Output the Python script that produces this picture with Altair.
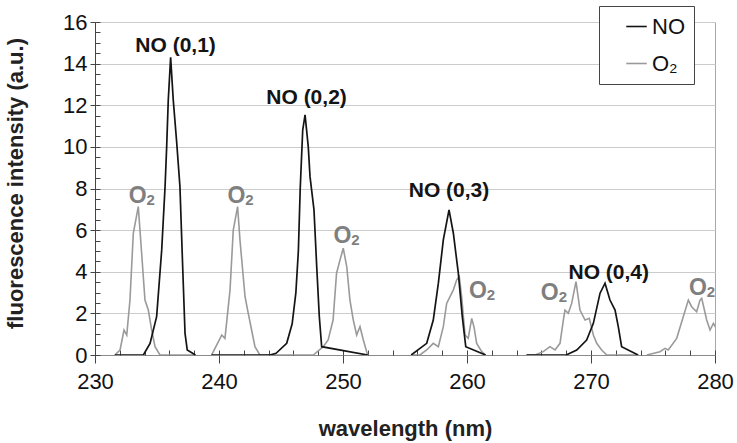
import altair as alt
import pandas as pd

FONT = "Liberation Sans"

# NO fluorescence spectrum, one scan window per value of no_scan
no_scan = [1] * 16 + [2] * 17 + [3] * 11 + [4] * 12
no_wl = [
    231.6, 233.9, 234.44, 234.97, 235.38, 235.65, 235.78, 235.91, 236.1, 236.31,
    236.59, 236.85, 237.07, 237.26, 237.44, 238.1,
    239.4, 244.1, 244.6, 245.46, 245.9, 246.2, 246.4, 246.55, 246.75, 246.94,
    247.2, 247.34, 247.66, 247.88, 248.09, 248.28, 252.0,
    255.5, 256.75, 257.28, 257.69, 258.09, 258.55, 258.9, 259.3, 259.62, 259.9, 261.5,
    264.8, 268.0, 268.85, 269.65, 270.19, 270.73, 271.13, 271.53, 271.94, 272.2,
    272.47, 273.8,
]
no_val = [
    0, 0, 0.56, 1.84, 5.05, 8.09, 10.0, 12.26, 14.3, 12.26,
    10.2, 8.09, 4.25, 1.04, 0.24, 0,
    0, 0, 0.08, 0.56, 1.5, 3.0, 5.0, 8.0, 10.8, 11.54,
    10.0, 8.57, 6.97, 4.25, 1.84, 0.4, 0,
    0, 0.56, 1.68, 3.45, 5.53, 6.97, 5.85, 3.93, 1.84, 0.4, 0,
    0, 0, 0.24, 0.72, 1.52, 2.97, 3.45, 2.64, 2.16, 1.36,
    0.4, 0,
]

# O2 fluorescence spectrum, one scan window per value of o2_scan
o2_scan = [1] * 14 + [2] * 30 + [3] * 19 + [4] * 19 + [5] * 15
o2_wl = [
    231.6, 232.02, 232.34, 232.56, 232.82, 233.09, 233.49, 233.76, 234.03, 234.3,
    234.57, 234.84, 235.24, 238.1,
    239.4, 240.22, 240.48, 240.89, 241.15, 241.5, 241.69, 242.1, 242.36, 242.63,
    242.9, 243.3, 247.6, 248.41, 248.8, 249.2, 249.48, 249.76, 250.02, 250.3,
    250.56, 250.83, 251.1, 251.37, 251.64, 251.91, 252.0, 252.0, 252.0, 252.0,
    255.5, 256.2, 256.75, 257.28, 257.69, 258.09, 258.36, 258.63, 258.9, 259.17,
    259.38, 259.57, 259.84, 260.1, 260.38, 260.56, 260.78, 261.19, 261.5,
    264.8, 265.5, 266.15, 266.69, 267.1, 267.5, 267.77, 267.9, 268.17, 268.44,
    268.79, 269.11, 269.52, 269.86, 270.19, 270.46, 270.86, 271.27, 273.8,
    274.5, 275.56, 275.97, 276.23, 276.91, 277.44, 277.85, 278.12, 278.52, 278.79,
    278.93, 279.33, 279.6, 279.87, 280.1,
]
o2_val = [
    0, 0.24, 1.2, 0.96, 2.64, 5.85, 7.13, 4.9, 2.64, 2.16,
    1.2, 0.4, 0, 0,
    0, 0.96, 0.8, 3.13, 6.0, 7.13, 5.53, 2.8, 2.0, 1.2,
    0.4, 0, 0, 0.4, 0.72, 1.68, 3.93, 4.57, 5.13, 4.25,
    2.64, 1.68, 0.96, 1.36, 0.72, 0.16, 0, 0, 0, 0,
    0, 0, 0.24, 0.56, 0.4, 1.36, 2.48, 2.8, 3.13, 3.61,
    3.77, 2.8, 0.96, 0.8, 1.76, 1.36, 0.56, 0.16, 0,
    0, 0, 0.16, 0.4, 0.24, 0.56, 1.68, 2.16, 2.0, 2.48,
    3.53, 2.16, 1.68, 1.76, 0.96, 0.56, 0.24, 0, 0,
    0, 0.16, 0.32, 0.24, 0.8, 1.84, 2.64, 2.32, 2.08, 2.64,
    2.72, 1.68, 1.2, 1.52, 1.28,
]

# band labels
no_labels = ["NO (0,1)", "NO (0,2)", "NO (0,3)", "NO (0,4)"]
no_label_x = [236.5, 247.06, 258.55, 271.43]
no_label_y = [14.83, 12.36, 7.86, 3.92]

# O2 labels: "O" with a subscript "2", placed on the text baseline
o2_label_x = [233.76, 241.73, 250.27, 261.2, 267.0, 278.94]
o2_label_y = [7.31, 7.31, 5.37, 2.73, 2.64, 2.88]

series = ["NO", "O₂"]
series_colors = ["#141414", "#9a9a9a"]

x_major = [230, 240, 250, 260, 270, 280]
x_minor = list(range(230, 281, 2))
y_major = [0, 2, 4, 6, 8, 10, 12, 14, 16]
y_minor = [v / 2 for v in range(0, 33)]

no_df = pd.DataFrame({"scan": no_scan, "wl": no_wl, "val": no_val, "series": "NO"})
o2_df = pd.DataFrame({"scan": o2_scan, "wl": o2_wl, "val": o2_val, "series": "O₂"})
no_lab = pd.DataFrame({"text": no_labels, "wl": no_label_x, "val": no_label_y})
o2_lab = pd.DataFrame({"wl": o2_label_x, "val": o2_label_y, "main": "O", "sub": "2"})

x_scale = alt.Scale(domain=[230, 280], nice=False, zero=False)
y_scale = alt.Scale(domain=[0, 16], nice=False)
color_scale = alt.Scale(domain=series, range=series_colors)

legend = alt.Legend(
    title=None,
    orient="none",
    legendX=504,
    legendY=-16,
    direction="vertical",
    fillColor="white",
    strokeColor="#444444",
    padding=9,
    symbolType="stroke",
    symbolSize=420,
    symbolStrokeWidth=1.6,
    symbolOffset=17,
    labelFont=FONT,
    labelFontSize=22,
    labelColor="#111111",
    labelOffset=4,
    rowPadding=14,
)

x_main_axis = alt.Axis(
    values=x_major,
    title="wavelength (nm)",
    titleFont=FONT,
    titleFontSize=22,
    titleFontWeight="bold",
    titleColor="#222222",
    titleY=80,
    titleBaseline="alphabetic",
    labelFont=FONT,
    labelFontSize=22,
    labelColor="#111111",
    labelPadding=8,
    labelFlush=False,
    tickSize=8,
    tickColor="#444444",
    domainColor="#8a8a8a",
    grid=False,
    orient="bottom",
)
y_main_axis = alt.Axis(
    values=y_major,
    title="fluorescence intensity (a.u.)",
    titleFont=FONT,
    titleFontSize=22,
    titleFontWeight="bold",
    titleColor="#222222",
    titleAngle=-90,
    titleX=-80,
    titleY=161,
    titleBaseline="middle",
    titleAlign="center",
    labelFont=FONT,
    labelFontSize=22,
    labelColor="#111111",
    labelPadding=3,
    labelFlush=False,
    tickSize=5,
    tickColor="#444444",
    domainColor="#444444",
    grid=True,
    gridColor="#cccccc",
    orient="left",
)
x_minor_axis = alt.Axis(
    values=x_minor, labels=False, title=None, domain=False, grid=False,
    tickSize=5, tickColor="#444444", offset=-5, orient="bottom",
)
y_minor_axis = alt.Axis(
    values=y_minor, labels=False, title=None, domain=False, grid=False,
    tickSize=5, tickColor="#444444", offset=-5, orient="left",
)

o2_line = alt.Chart(o2_df).mark_line(strokeWidth=1.6, clip=True).encode(
    x=alt.X("wl:Q", scale=x_scale, axis=x_main_axis),
    y=alt.Y("val:Q", scale=y_scale, axis=y_main_axis),
    color=alt.Color("series:N", scale=color_scale, legend=legend),
    detail="scan:N",
    order="wl:Q",
)
no_line = alt.Chart(no_df).mark_line(strokeWidth=1.7, clip=True).encode(
    x=alt.X("wl:Q", scale=x_scale, axis=x_minor_axis),
    y=alt.Y("val:Q", scale=y_scale, axis=y_minor_axis),
    color=alt.Color("series:N", scale=color_scale, legend=legend),
    detail="scan:N",
    order="wl:Q",
)
no_text = alt.Chart(no_lab).mark_text(
    font=FONT, fontSize=21, fontWeight="bold", color="#141414", baseline="middle"
).encode(
    x=alt.X("wl:Q", scale=x_scale, axis=None),
    y=alt.Y("val:Q", scale=y_scale, axis=None),
    text="text:N",
)
o2_text_main = alt.Chart(o2_lab).mark_text(
    font=FONT, fontSize=23, fontWeight="bold", color="#7f7f7f",
    baseline="alphabetic", dx=-4,
).encode(
    x=alt.X("wl:Q", scale=x_scale, axis=None),
    y=alt.Y("val:Q", scale=y_scale, axis=None),
    text="main:N",
)
o2_text_sub = alt.Chart(o2_lab).mark_text(
    font=FONT, fontSize=15, fontWeight="bold", color="#7f7f7f",
    baseline="alphabetic", dx=9, dy=2,
).encode(
    x=alt.X("wl:Q", scale=x_scale, axis=None),
    y=alt.Y("val:Q", scale=y_scale, axis=None),
    text="sub:N",
)

chart = (
    alt.layer(o2_line, no_line, no_text, o2_text_main, o2_text_sub)
    .resolve_axis(x="independent", y="independent")
    .properties(
        width=620,
        height=333,
        autosize=alt.AutoSizeParams(type="none"),
        padding={"left": 95, "top": 22, "right": 22, "bottom": 88},
        background="white",
    )
    .configure_view(stroke="#a8a8a8", strokeWidth=1)
)

chart.save("out.html", embed_options={"renderer": "svg", "actions": False})
